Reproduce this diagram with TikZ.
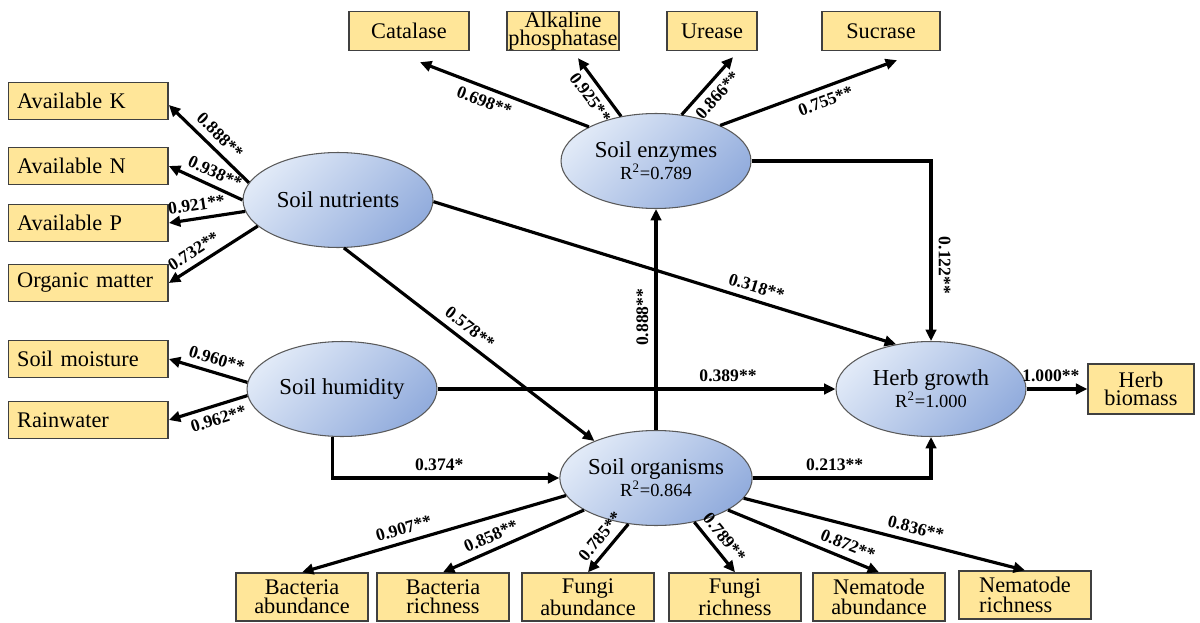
\documentclass[tikz,border=0pt]{standalone}
\usepackage{fontspec}
\setmainfont{Liberation Serif}
\usetikzlibrary{shapes.geometric,arrows.meta,calc}

\definecolor{boxfill}{HTML}{FFE699}
\definecolor{latlight}{HTML}{E0E9F7}
\definecolor{latdark}{HTML}{93ADDD}

\begin{document}
\begin{tikzpicture}[x=0.02cm, y=-0.02cm,
    obs/.style={draw=black!75, line width=0.8pt, fill=boxfill, inner sep=0pt,
        align=center, font=\fontsize{12.7}{11}\selectfont},
    obsL/.style={obs, anchor=west, minimum height=0.74cm, text width=2.85cm,
        align=left, inner xsep=0.17cm},
    obsT/.style={obs, minimum height=0.78cm},
    obsB/.style={obs, minimum width=2.64cm, minimum height=0.96cm},
    lat/.style={ellipse, draw=black!65, line width=0.6pt, top color=latlight,
        bottom color=latdark, shading angle=45, minimum width=3.8cm,
        minimum height=1.9cm, inner sep=0pt, align=center,
        font=\fontsize{13}{11.3}\selectfont},
    arr/.style={-{Triangle[length=6.5pt,width=6pt]}, line width=1.8pt},
    lab/.style={font=\bfseries\fontsize{10}{12}\selectfont, inner sep=3.5pt}]

    \useasboundingbox (0,0) rectangle (1200,622);

    % R^2 line of the latent variables
    \newcommand{\rsq}[1]{{\fontsize{10.5}{12}\selectfont R\textsuperscript{2}=#1}}

    % Latent variables
    \node[lat] (enz)  at (656,161) {Soil enzymes\\\rsq{0.789}};
    \node[lat] (nut)  at (338,200) {Soil nutrients};
    \node[lat] (hum)  at (342,389) {Soil humidity};
    \node[lat] (org)  at (656,478) {Soil organisms\\\rsq{0.864}};
    \node[lat] (herb) at (931,389) {Herb growth\\\rsq{1.000}};

    % Enzyme indicators (top row)
    \node[obsT, minimum width=2.4cm]  (cat) at (409,31) {Catalase};
    \node[obsT, minimum width=2.24cm, font=\fontsize{12.7}{10.2}\selectfont]
        (alk) at (563,31) {Alkaline\\phosphatase};
    \node[obsT, minimum width=1.8cm]  (ure) at (712,31) {Urease};
    \node[obsT, minimum width=2.36cm] (suc) at (881,31) {Sucrase};

    % Nutrient and humidity indicators (left column)
    \node[obsL] (avk) at (8,101) {Available K};
    \node[obsL] (avn) at (8,166) {Available N};
    \node[obsL] (avp) at (8,223) {Available P};
    \node[obsL] (om)  at (8,283) {Organic matter};
    \node[obsL] (sm)  at (8,359) {Soil moisture};
    \node[obsL] (rw)  at (8,420) {Rainwater};

    % Organism indicators (bottom row)
    \node[obsB] (bacab) at (302,597) {Bacteria\\abundance};
    \node[obsB] (bacri) at (443,597) {Bacteria\\richness};
    \node[obsB] (funab) at (588,597) {Fungi\\abundance};
    \node[obsB] (funri) at (735,597) {Fungi\\richness};
    \node[obsB] (nemab) at (879,597) {Nematode\\abundance};
    \node[obsB, align=left] (nemri) at (1025,595) {Nematode\\richness};

    % Herb growth indicator
    \node[obs, minimum width=2.12cm, minimum height=1cm,
        font=\fontsize{12.7}{10.5}\selectfont] (bio) at (1141,389) {Herb\\biomass};

    % Loadings of soil enzymes
    \draw[arr] (enz.153) -- ($(cat.south)+(11,11)$) node[lab, pos=0.59, sloped, below] {0.698**};
    \draw[arr] (enz.128) -- ($(alk.south)+(15,7)$) node[lab, pos=0.46, sloped, below] {0.925**};
    \draw[arr] (enz.61)  -- ($(ure.south)+(21,6)$) node[lab, pos=0.5, sloped, below] {0.866**};
    \draw[arr] (enz.29)  -- ($(suc.south)+(16,9)$) node[lab, pos=0.57, sloped, below] {0.755**};

    % Loadings of soil nutrients
    \draw[arr] (nut.169) -- ($(avk.east)+(0,4)$) node[lab, pos=0.48, sloped, above] {0.888**};
    \draw[arr] (nut.180) -- (avn.east) node[lab, pos=0.45, sloped, above] {0.938**};
    \draw[arr] (nut.187) -- (avp.east) node[lab, pos=0.61, sloped, above] {0.921**};
    \draw[arr] (nut.198) -- (om.east)  node[lab, pos=0.64, sloped, above] {0.732**};

    % Loadings of soil humidity
    \draw[arr] (hum.176) -- (sm.east) node[lab, pos=0.44, sloped, above] {0.960**};
    \draw[arr] (hum.184) -- (rw.east) node[lab, pos=0.42, sloped, below] {0.962**};

    % Loadings of soil organisms
    \draw[arr] (org.191) -- (bacab.north) node[lab, pos=0.6,  sloped, above] {0.907**};
    \draw[arr] (org.204) -- (bacri.north) node[lab, pos=0.62, sloped, above] {0.858**};
    \draw[arr] (org.239) -- (funab.north) node[lab, pos=0.44, sloped, above] {0.785**};
    \draw[arr] (org.311) -- (funri.north) node[lab, pos=0.48, sloped, above] {0.789**};
    \draw[arr] (org.336) -- (nemab.north) node[lab, pos=0.76, sloped, above] {0.872**};
    \draw[arr] (org.347) -- (nemri.north) node[lab, pos=0.6,  sloped, above] {0.836**};

    % Path coefficients
    \draw[arr] (nut.-1)  -- (herb.128) node[lab, pos=0.69, sloped, above] {0.318**};
    \draw[arr] (nut.277) -- (org.149)  node[lab, pos=0.47, sloped, above] {0.578**};
    \draw[arr] (hum.east) -- (herb.west) node[lab, pos=0.73, above] {0.389**};
    \draw[arr] (hum.259) |- (org.west) node[lab, pos=0.735, above] {0.374*};
    \draw[arr] (org.north) -- (enz.south) node[lab, pos=0.51, rotate=90, anchor=south] {0.888**};
    \draw[arr] (enz.east) -| (herb.north) node[lab, pos=0.79, rotate=-90, anchor=south] {0.122**};
    \draw[arr] (org.east) -| (herb.south) node[lab, pos=0.23, above] {0.213**};
    \draw[arr] (herb.east) -- (bio.west) node[lab, pos=0.4, above] {1.000**};

\end{tikzpicture}
\end{document}
